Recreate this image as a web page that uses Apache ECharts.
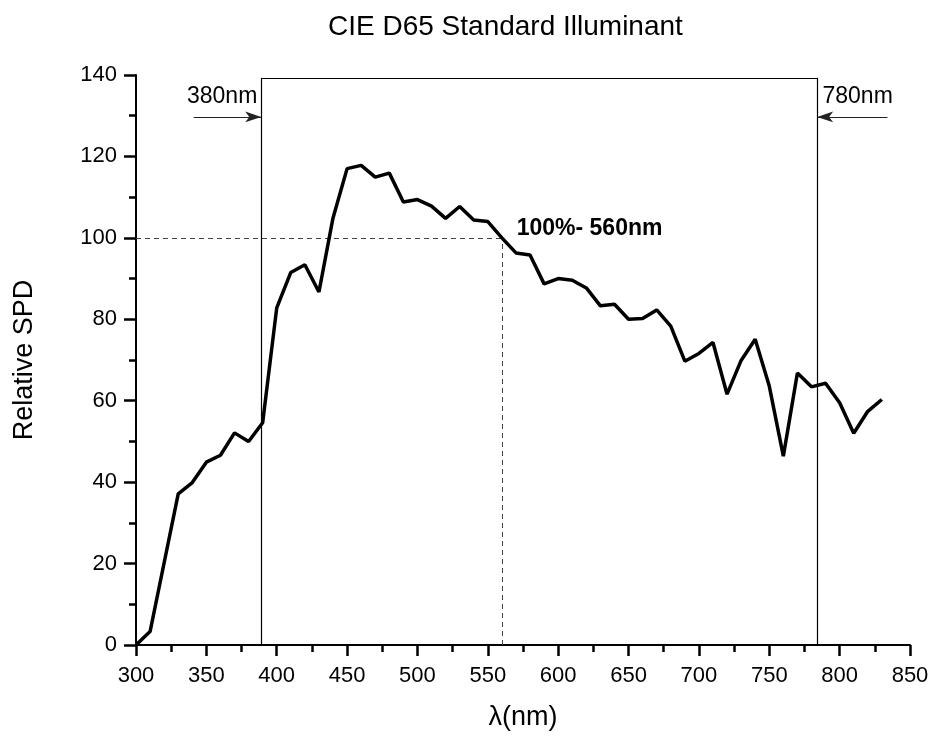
<!DOCTYPE html>
<html>
<head>
<meta charset="utf-8">
<script src="https://cdn.jsdelivr.net/npm/echarts@6/dist/echarts.min.js"></script>
<style>
  html, body { margin: 0; padding: 0; background: #fff; }
  #chart { width: 932px; height: 736px; }
</style>
</head>
<body>
<div id="chart"></div>
<script>
// Relative spectral power distribution of the CIE D65 illuminant, 10 nm steps
const wavelength = [300, 310, 320, 330, 340, 350, 360, 370, 380, 390,
                    400, 410, 420, 430, 440, 450, 460, 470, 480, 490,
                    500, 510, 520, 530, 540, 550, 560, 570, 580, 590,
                    600, 610, 620, 630, 640, 650, 660, 670, 680, 690,
                    700, 710, 720, 730, 740, 750, 760, 770, 780, 790,
                    800, 810, 820, 830];
const spd = [0.0, 3.3, 20.2, 37.1, 39.9, 44.9, 46.6, 52.1, 50.0, 54.6,
             82.8, 91.5, 93.4, 86.7, 104.9, 117.0, 117.8, 114.9, 115.9, 108.8,
             109.4, 107.8, 104.8, 107.7, 104.4, 104.0, 100.0, 96.3, 95.8, 88.7,
             90.0, 89.6, 87.7, 83.3, 83.7, 80.0, 80.2, 82.3, 78.3, 69.7,
             71.6, 74.3, 61.6, 69.9, 75.1, 63.6, 46.4, 66.8, 63.4, 64.3,
             59.5, 52.0, 57.4, 60.3];

// Visible-range window and reference point
const visibleBand = [389, 784];
const bandTop = 139.3;
const refPoint = [560, 100];
const arrowLevel = 129.7;
const leftArrowStart = 341;
const rightArrowStart = 834;

const FONT = '"Liberation Sans", Arial, Helvetica, sans-serif';

const chart = echarts.init(document.getElementById('chart'), null, { renderer: 'canvas' });

const solid = { type: 'solid', color: '#000', width: 1.2 };
const dashed = { type: [5, 4], color: '#444', width: 1 };
const arrowStyle = { type: 'solid', color: '#222', width: 1, opacity: 1 };

const option = {
  backgroundColor: '#fff',
  animation: false,
  title: {
    text: 'CIE D65 Standard Illuminant',
    left: 323,
    top: 8,
    textStyle: { fontFamily: FONT, fontSize: 28, fontWeight: 'normal', color: '#000' }
  },
  grid: { left: 136, right: 22, top: 75, bottom: 89, containLabel: false },
  xAxis: {
    type: 'value',
    min: 300, max: 850, interval: 50,
    name: 'λ(nm)',
    nameLocation: 'middle',
    nameGap: 59,
    nameTextStyle: { fontFamily: FONT, fontSize: 27, color: '#000' },
    axisLine: { show: true, onZero: false, lineStyle: { color: '#000', width: 2 } },
    axisTick: { show: true, length: 11, lineStyle: { color: '#000', width: 2.5 } },
    minorTick: { show: true, splitNumber: 2, length: 7, lineStyle: { color: '#000', width: 2.5 } },
    axisLabel: { fontFamily: FONT, fontSize: 22, color: '#000', margin: 20 },
    splitLine: { show: false }
  },
  yAxis: {
    type: 'value',
    min: 0, max: 140, interval: 20,
    name: 'Relative SPD',
    nameLocation: 'middle',
    nameGap: 98,
    nameTextStyle: { fontFamily: FONT, fontSize: 27, color: '#000' },
    axisLine: { show: true, onZero: false, lineStyle: { color: '#000', width: 2 } },
    axisTick: { show: true, length: 12, lineStyle: { color: '#000', width: 2.5 } },
    minorTick: { show: true, splitNumber: 2, length: 7, lineStyle: { color: '#000', width: 2.5 } },
    axisLabel: { fontFamily: FONT, fontSize: 22, color: '#000', margin: 19 },
    splitLine: { show: false }
  },
  series: [
    {
      type: 'line',
      data: wavelength.map((w, i) => [w, spd[i]]),
      showSymbol: false,
      symbol: 'none',
      lineStyle: { color: '#000', width: 3.5 },
      z: 5,
      markLine: {
        silent: true,
        symbol: 'none',
        label: { show: false },
        data: [
          // window edges
          [{ coord: [visibleBand[0], 0], lineStyle: solid }, { coord: [visibleBand[0], bandTop] }],
          [{ coord: [visibleBand[0], bandTop], lineStyle: solid }, { coord: [visibleBand[1], bandTop] }],
          [{ coord: [visibleBand[1], 0], lineStyle: solid }, { coord: [visibleBand[1], bandTop] }],
          // 100% reference guides
          [{ coord: [300, refPoint[1]], lineStyle: dashed }, { coord: refPoint }],
          [{ coord: [refPoint[0], 0], lineStyle: dashed }, { coord: refPoint }],
          // arrows pointing at the window edges
          [{ coord: [leftArrowStart, arrowLevel], lineStyle: arrowStyle, symbol: 'none' },
           { coord: [visibleBand[0], arrowLevel], symbol: 'arrow', symbolSize: [8, 16], itemStyle: { color: '#000' } }],
          [{ coord: [rightArrowStart, arrowLevel], lineStyle: arrowStyle, symbol: 'none' },
           { coord: [visibleBand[1], arrowLevel], symbol: 'arrow', symbolSize: [8, 16], itemStyle: { color: '#000' } }]
        ]
      },
      markPoint: {
        silent: true,
        symbol: 'circle',
        symbolSize: 0,
        data: [
          { coord: [361.2, 134.6], label: { show: true, formatter: '380nm', fontFamily: FONT, fontSize: 23, color: '#000' } },
          { coord: [812.8, 134.7], label: { show: true, formatter: '780nm', fontFamily: FONT, fontSize: 23, color: '#000' } },
          { coord: [622.3, 102.3], label: { show: true, formatter: '100%- 560nm', fontFamily: FONT, fontSize: 23, fontWeight: 'bold', color: '#000' } }
        ]
      }
    }
  ]
};

chart.setOption(option);
</script>
</body>
</html>
